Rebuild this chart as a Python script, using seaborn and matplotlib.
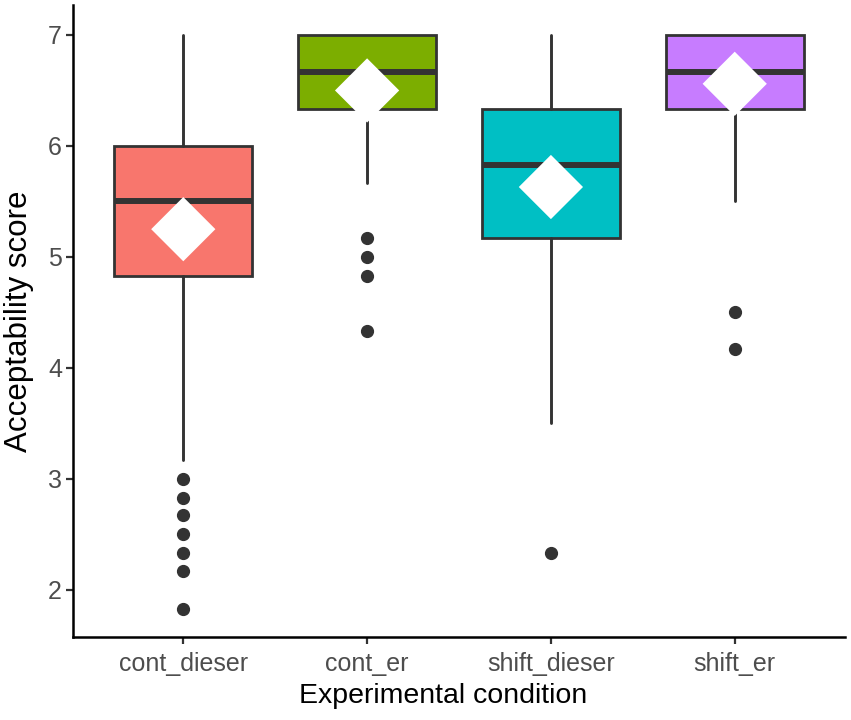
import numpy as np
import pandas as pd
import matplotlib
matplotlib.use("Agg")
import matplotlib.pyplot as plt
import seaborn as sns

# Box statistics
conditions = ["cont_dieser", "cont_er", "shift_dieser", "shift_er"]
q1 = [4.83, 6.33, 5.17, 6.33]
medians = [5.5, 6.67, 5.83, 6.67]
q3 = [6.0, 7.0, 6.33, 7.0]
whisker_lo = [3.17, 5.67, 3.5, 5.5]
whisker_hi = [7.0, 7.0, 7.0, 7.0]
outliers = [
    [3.0, 2.83, 2.67, 2.5, 2.33, 2.17, 1.83],
    [5.17, 5.0, 4.83, 4.33],
    [2.33],
    [4.5, 4.17],
]
means = [5.25, 6.5, 5.63, 6.56]
colors = ["#F8766D", "#7CAE00", "#00BFC4", "#C77CFF"]

sns.set_theme(style="ticks")
plt.rcParams["font.family"] = ["Liberation Sans", "DejaVu Sans"]

fig = plt.figure(figsize=(8.51, 7.2), dpi=100)
ax = fig.add_axes([73 / 851, 1 - 637 / 720, (845 - 73) / 851, (637 - 5) / 720])

positions = np.arange(len(conditions))
stats = []
for i, name in enumerate(conditions):
    stats.append(dict(label=name, q1=q1[i], med=medians[i], q3=q3[i],
                      whislo=whisker_lo[i], whishi=whisker_hi[i],
                      fliers=outliers[i]))

edge = "#333333"
bp = ax.bxp(stats, positions=positions, widths=0.75, patch_artist=True,
            showcaps=False, showfliers=True,
            boxprops=dict(edgecolor=edge, linewidth=2.0),
            whiskerprops=dict(color=edge, linewidth=2.1),
            medianprops=dict(color=edge, linewidth=4.3, solid_capstyle="butt"),
            flierprops=dict(marker="o", markerfacecolor=edge, markeredgecolor=edge,
                            markersize=8.5))
for patch, c in zip(bp["boxes"], colors):
    patch.set_facecolor(c)

means_df = pd.DataFrame({"pos": positions, "mean": means})
sns.scatterplot(data=means_df, x="pos", y="mean", marker="D", s=1070,
                color="white", edgecolor="none", zorder=5, ax=ax)

ax.set_xlim(-0.6, 3.6)
ax.set_ylim(1.575, 7.27)
ax.set_xticks(positions)
ax.set_xticklabels(conditions)
ax.set_yticks([2, 3, 4, 5, 6, 7])
ax.set_xlabel("Experimental condition", fontsize=20.5, color="black")
ax.set_ylabel("Acceptability score", fontsize=22.5, color="black")
ax.xaxis.set_label_coords((443 - 73) / 772, -0.072)
ax.yaxis.set_label_coords(-0.051, 0.5)
ax.tick_params(axis="both", labelsize=18, labelcolor="#4D4D4D", color="#333333",
               length=5, width=1.6)
ax.tick_params(axis="x", pad=6)
ax.tick_params(axis="y", pad=3)
for side in ["top", "right"]:
    ax.spines[side].set_visible(False)
for side in ["left", "bottom"]:
    ax.spines[side].set_color("black")
    ax.spines[side].set_linewidth(1.8)

fig.savefig("out.png", dpi=100)
